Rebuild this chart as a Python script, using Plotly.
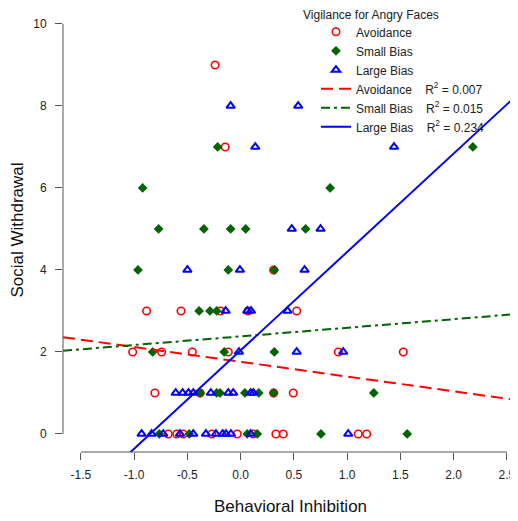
import plotly.graph_objects as go

# ---------------- data ----------------
avoid_x = [-0.24, -0.145, 0.31,
           -0.883, -0.56, -0.19, 0.07, 0.526,
           -1.014, -0.742, -0.454, -0.116, 0.917, 1.527,
           -0.805, -0.38, 0.31, 0.494,
           -0.68, -0.60, -0.54, -0.27, -0.032, 0.118, 0.331, 0.40, 1.104, 1.183]
avoid_y = [9, 7, 4,
           3, 3, 3, 3, 3,
           2, 2, 2, 2, 2, 2,
           1, 1, 1, 1,
           0, 0, 0, 0, 0, 0, 0, 0, 0, 0]

small_x = [-0.216, 2.18,
           -0.92, 0.84,
           -0.77, -0.345, -0.094, 0.047, 0.61,
           -0.964, -0.116, 0.316,
           -0.39, -0.288, -0.225,
           -0.826, -0.154, 0.316,
           -0.38, -0.225, -0.194, 0.04, 0.17, 0.31, 1.25,
           -0.764, -0.483, 0.062, 0.156, 0.754, 1.564]
small_y = [7, 7,
           6, 6,
           5, 5, 5, 5, 5,
           4, 4, 4,
           3, 3, 3,
           2, 2, 2,
           1, 1, 1, 1, 1, 1, 1,
           0, 0, 0, 0, 0, 0]

large_x = [-0.094, 0.54,
           0.137, 1.44,
           0.48, 0.75,
           -0.50, -0.007, 0.60,
           -0.141, 0.062, 0.097, 0.44,
           -0.016, 0.526, 0.963,
           -0.61, -0.545, -0.49, -0.445, -0.28, -0.116, -0.07, 0.094, 0.12,
           -0.93, -0.836, -0.727, -0.57, -0.445, -0.326, -0.232, -0.169, -0.138, -0.091, 0.094, 1.01]
large_y = [8, 8,
           7, 7,
           5, 5,
           4, 4, 4,
           3, 3, 3, 3,
           2, 2, 2,
           1, 1, 1, 1, 1, 1, 1, 1, 1,
           0, 0, 0, 0, 0, 0, 0, 0, 0, 0, 0, 0]

group_names = ["Avoidance", "Small Bias", "Large Bias"]
fit_intercepts = [1.76, 2.38, 2.04]
fit_slopes = [-0.36, 0.21, 2.40]
fit_r2 = ["0.007", "0.015", "0.234"]

x_ticks = [-1.5, -1.0, -0.5, 0.0, 0.5, 1.0, 1.5, 2.0, 2.5]
y_ticks = [0, 2, 4, 6, 8, 10]

# ---------------- styling ----------------
RED, GREEN, BLUE = "#FF0000", "#006400", "#0000FF"
FONT = "Liberation Sans, Arial, Helvetica, sans-serif"
X_RANGE = [-1.668, 2.604]
Y_RANGE = [-0.44, 10.39]

fig = go.Figure()

fig.add_trace(go.Scatter(
    x=avoid_x, y=avoid_y, mode="markers", name=group_names[0],
    marker=dict(symbol="circle-open", size=7.5, color=RED, line=dict(width=1.6, color=RED)),
))
fig.add_trace(go.Scatter(
    x=small_x, y=small_y, mode="markers", name=group_names[1],
    marker=dict(symbol="diamond", size=7.5, color=GREEN, line=dict(width=0)),
))
fig.add_trace(go.Scatter(
    x=large_x, y=large_y, mode="markers", name=group_names[2],
    marker=dict(symbol="triangle-up-open", size=7.5, color=BLUE, line=dict(width=2, color=BLUE)),
))

line_styles = [(RED, "12px,6px"), (GREEN, "9px,4px,3px,4px"), (BLUE, "solid")]
nb = "\u00a0"
for name, b0, b1, r2, (col, dash) in zip(group_names, fit_intercepts, fit_slopes, fit_r2, line_styles):
    xs = X_RANGE
    ys = [b0 + b1 * v for v in xs]
    fig.add_trace(go.Scatter(
        x=xs, y=ys, mode="lines",
        name=f"{name}{nb*4}R<sup>2</sup> = {r2}",
        line=dict(color=col, width=2, dash=dash),
    ))

axis_col = "#555555"
fig.update_xaxes(
    range=X_RANGE, showgrid=False, zeroline=False, showline=False,
    tickmode="array", tickvals=x_ticks, ticktext=[f"{v:.1f}" for v in x_ticks],
    ticks="outside", ticklen=7, tickcolor=axis_col, tickwidth=1,
    tickfont=dict(family=FONT, size=12, color="#222222"),
    ticklabelstandoff=5,
    title=dict(text="Behavioral Inhibition", font=dict(family=FONT, size=17, color="#111111"), standoff=18),
)
fig.update_yaxes(
    range=Y_RANGE, showgrid=False, zeroline=False, showline=False,
    tickmode="array", tickvals=y_ticks, ticktext=[str(v) for v in y_ticks],
    ticks="outside", ticklen=7, tickcolor=axis_col, tickwidth=1,
    tickfont=dict(family=FONT, size=12, color="#222222"),
    ticklabelstandoff=6,
    title=dict(text="Social Withdrawal", font=dict(family=FONT, size=17, color="#111111"), standoff=9),
)

# R-style axis lines spanning first to last tick
fig.add_shape(type="line", xref="x", yref="paper", x0=x_ticks[0], x1=x_ticks[-1], y0=0, y1=0,
              line=dict(color=axis_col, width=1))
fig.add_shape(type="line", xref="paper", yref="y", x0=0, x1=0, y0=y_ticks[0], y1=y_ticks[-1],
              line=dict(color=axis_col, width=1))

fig.add_annotation(text="Vigilance for Angry Faces", xref="paper", yref="paper",
                   x=0.677, y=0.984, showarrow=False, xanchor="center", yanchor="middle",
                   font=dict(family=FONT, size=12, color="#222222"))

# page body has an 8px margin, so the figure is 8px smaller than the window
fig.update_layout(
    width=510, height=513,
    margin=dict(l=55, r=0, t=0, b=69, autoexpand=False),
    paper_bgcolor="white", plot_bgcolor="white",
    showlegend=True,
    legend=dict(x=0.556, y=0.979, xanchor="left", yanchor="top",
                bgcolor="rgba(0,0,0,0)", borderwidth=0,
                font=dict(family=FONT, size=12, color="#222222"),
                tracegroupgap=0),
    font=dict(family=FONT),
)

fig.write_html("out.html")
